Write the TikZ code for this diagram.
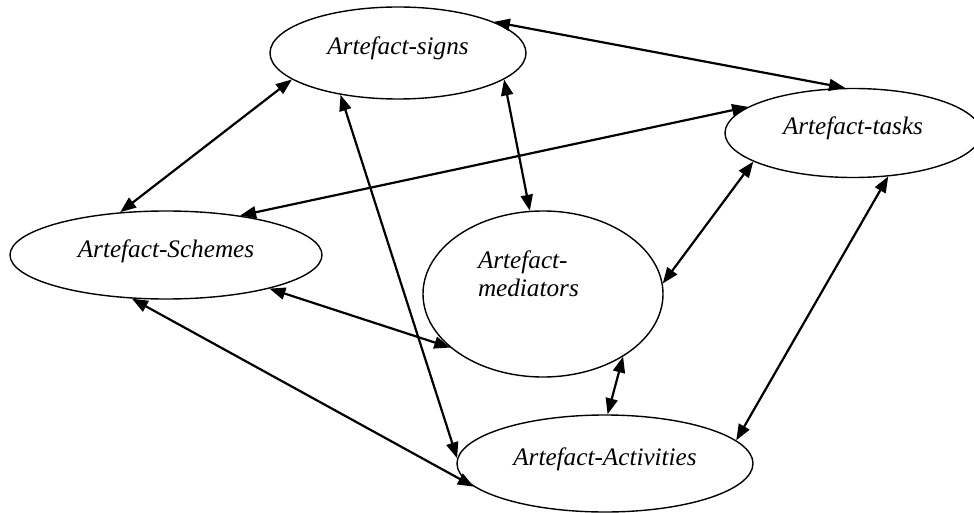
\documentclass[tikz,border=0pt]{standalone}
\usepackage{fontspec}
\setmainfont{Liberation Serif}
\usetikzlibrary{arrows.meta,shapes.geometric}

\begin{document}
\begin{tikzpicture}[x=0.5pt, y=-0.5pt, every node/.style={ellipse, draw=black, line width=0.7pt, inner sep=0pt, font=\fontsize{12.6}{14}\selectfont\itshape, text height=8.5pt, text depth=6.5pt}, >={Triangle[length=8pt, width=6pt]}]
\useasboundingbox (0,0) rectangle (974,513);
\node (signs) [minimum width=128pt, minimum height=46pt] at (398,53) {Artefact-signs};
\node (tasks) [minimum width=128pt, minimum height=44.5pt] at (853,133) {Artefact-tasks};
\node (schemes) [minimum width=156pt, minimum height=44pt] at (166,255) {Artefact-Schemes};
\node (med) [minimum width=120pt, minimum height=83pt, text width=65pt, align=left, text depth=33.5pt] at (543,294) {Artefact-\\mediators};
\node (act) [minimum width=148pt, minimum height=48.5pt] at (605,463.5) {Artefact-Activities};
\foreach \x/\y in {signs.18/tasks.100, signs.194/schemes.137, signs.216/act.178, signs.346/med.99, tasks.166/schemes.28, tasks.196/med.5, tasks.309/act.10, schemes.342/med.210, schemes.232/act.190, med.322/act.87} \draw[<->, line width=1.1pt] (\x) -- (\y);
\end{tikzpicture}
\end{document}
